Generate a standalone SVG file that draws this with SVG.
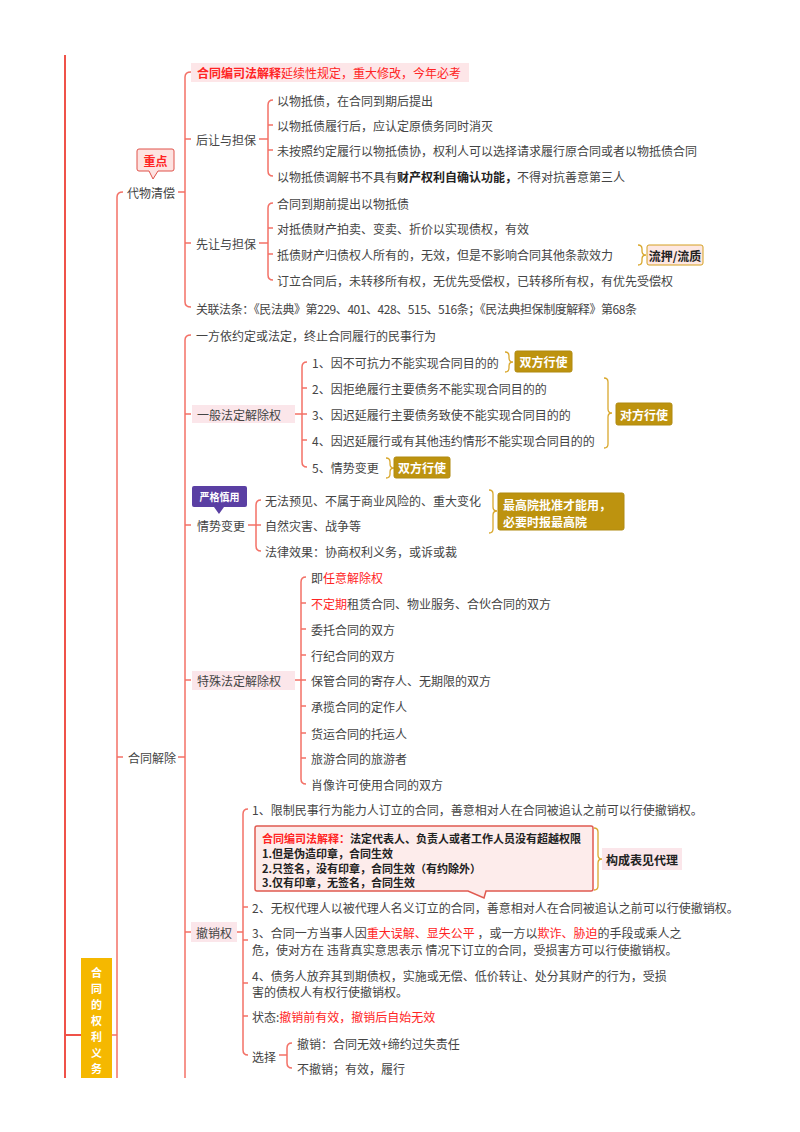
<svg xmlns="http://www.w3.org/2000/svg" width="800" height="1132" viewBox="0 0 800 1132">
<style>
.t{font-family:"Noto Sans CJK SC","Noto Sans",sans-serif;font-size:12px;fill:#444;dominant-baseline:central}
.s{font-size:11px;font-weight:bold;fill:#222}
.r{fill:#ff2424}
.b{font-weight:bold}
.dk{fill:#222}
.ln{fill:none;stroke:#f37167;stroke-width:1.5}
.l0{fill:none;stroke:#ef5249;stroke-width:2}
.br{fill:none;stroke:#d9a82e;stroke-width:1.3}
.gold{fill:#bd930f;stroke:#b08a10;stroke-width:1}
.tw{fill:#fff;font-weight:bold}
.pk{fill:#fbe6ea}
.v{font-family:"Noto Sans CJK SC","Noto Sans",sans-serif;font-size:11px;font-weight:bold;fill:#fff;dominant-baseline:central;text-anchor:middle}
</style>
<rect width="800" height="1132" fill="#fff"/>
<g id="connectors">
<path class="l0" d="M65,55 V1078 M65,1035 H81"/>
<path class="ln" d="M112,1035 H117 M123,192 Q117,192 117,197 V1078 M117,757 H123"/>
<path class="ln" d="M178,192 H185 M191,72 Q185,72 185,77 V302 Q185,307 191,307 M185,139 H191 M185,243 H191"/>
<path class="ln" d="M178,757 H185 M191,335 Q185,335 185,340 V1078 M185,414 H191 M185,525 H191 M185,680 H191 M185,932 H191"/>
<path class="ln" d="M259,139 H268 M273,100 Q268,100 268,105 V171 Q268,176 273,176 M268,125 H273 M268,150 H273"/>
<path class="ln" d="M259,243 H268 M273,203 Q268,203 268,208 V275 Q268,280 273,280 M268,228 H273 M268,254 H273"/>
<path class="ln" d="M295,414 H302 M307,362 Q302,362 302,367 V462 Q302,467 307,467 M302,388 H307 M302,414 H307 M302,440 H307"/>
<path class="ln" d="M248,525 H256 M261,500 Q256,500 256,505 V546 Q256,551 261,551 M256,525 H261"/>
<path class="ln" d="M295,680 H301 M306,577 Q301,577 301,582 V779 Q301,784 306,784 M301,603 H306 M301,629 H306 M301,655 H306 M301,680 H306 M301,706 H306 M301,733 H306 M301,758 H306"/>
<path class="ln" d="M237,932 H243 M248,809 Q243,809 243,814 V1050 Q243,1055 248,1055 M243,907 H248 M243,940 H248 M243,983 H248 M243,1016 H248"/>
<path class="ln" d="M279,1055 H287 M292,1043 Q287,1043 287,1048 V1063 Q287,1068 292,1068"/>
<path class="br" d="M638,245 Q642,245 642,249 V251 Q642,255 646,255 Q642,255 642,259 V261 Q642,265 638,265"/>
<path class="br" d="M505,352 Q509,352 509,356 V358 Q509,362 513,362 Q509,362 509,366 V368 Q509,372 505,372"/>
<path class="br" d="M604,378 Q608,378 608,382 V409 Q608,413 612,413 Q608,413 608,417 V444 Q608,448 604,448"/>
<path class="br" d="M386,458 Q390,458 390,462 V464 Q390,468 394,468 Q390,468 390,472 V474 Q390,478 386,478"/>
<path class="br" d="M489,490 Q493,490 493,494 V507 Q493,511 497,511 Q493,511 493,515 V529 Q493,533 489,533"/>
<path class="br" d="M594,828 Q598,828 598,832 V855 Q598,859 602,859 Q598,859 598,863 V886 Q598,890 594,890"/>
</g>
<g id="root">
<rect x="81" y="958" width="31" height="120" fill="#f5b800"/>
<text class="v" x="96.5" y="972">合</text>
<text class="v" x="96.5" y="988">同</text>
<text class="v" x="96.5" y="1004">的</text>
<text class="v" x="96.5" y="1020">权</text>
<text class="v" x="96.5" y="1036">利</text>
<text class="v" x="96.5" y="1052">义</text>
<text class="v" x="96.5" y="1068">务</text>
</g>
<g id="n-dwqc">
<text class="t" x="127" y="192">代物清偿</text>
<path d="M139,149 H172 Q174,149 174,151 V169 Q174,171 172,171 H158 L153,179 L149,171 H139 Q137,171 137,169 V151 Q137,149 139,149 Z" fill="#fde3e1" stroke="#e0524a" stroke-width="1"/>
<text class="t r b" x="155.5" y="160" text-anchor="middle">重点</text>
</g>
<g id="n-sfjs">
<rect x="191" y="63" width="278" height="19" fill="#fde6e8"/>
<text class="t r" x="197" y="72"><tspan class="b">合同编司法解释</tspan>延续性规定，重大修改，今年必考</text>
</g>
<g id="n-hr">
<text class="t" x="196" y="139">后让与担保</text>
<text class="t" x="277" y="100">以物抵债，在合同到期后提出</text>
<text class="t" x="277" y="125">以物抵债履行后，应认定原债务同时消灭</text>
<text class="t" x="277" y="150">未按照约定履行以物抵债协，权利人可以选择请求履行原合同或者以物抵债合同</text>
<text class="t" x="277" y="176">以物抵债调解书不具有<tspan class="b dk">财产权利自确认功能，</tspan>不得对抗善意第三人</text>
</g>
<g id="n-xr">
<text class="t" x="196" y="243">先让与担保</text>
<text class="t" x="277" y="203">合同到期前提出以物抵债</text>
<text class="t" x="277" y="228">对抵债财产拍卖、变卖、折价以实现债权，有效</text>
<text class="t" x="277" y="254">抵债财产归债权人所有的，无效，但是不影响合同其他条款效力</text>
<text class="t" x="277" y="280">订立合同后，未转移所有权，无优先受偿权，已转移所有权，有优先受偿权</text>
</g>
<g id="n-lyz">
<rect x="647" y="245" width="56" height="20" rx="2" fill="#fde7e2" stroke="#d4a020" stroke-width="1"/>
<text class="t b dk" x="675" y="255" text-anchor="middle">流押/流质</text>
</g>
<g id="n-glft">
<text class="t" x="196" y="308" textLength="441" lengthAdjust="spacing">关联法条：《民法典》第229、401、428、515、516条；《民法典担保制度解释》第68条</text>
</g>
<g id="n-htjc">
<text class="t" x="128" y="757">合同解除</text>
<text class="t" x="196" y="335">一方依约定或法定，终止合同履行的民事行为</text>
</g>
<g id="n-ybfd">
<rect x="192" y="405" width="103" height="18" class="pk"/>
<text class="t" x="197" y="414">一般法定解除权</text>
<text class="t" x="312" y="362">1、因不可抗力不能实现合同目的的</text>
<text class="t" x="312" y="388">2、因拒绝履行主要债务不能实现合同目的的</text>
<text class="t" x="312" y="414">3、因迟延履行主要债务致使不能实现合同目的的</text>
<text class="t" x="312" y="440">4、因迟延履行或有其他违约情形不能实现合同目的的</text>
<text class="t" x="312" y="467">5、情势变更</text>
</g>
<g id="n-tag1">
<rect x="515" y="351" width="57" height="21" rx="2" class="gold"/>
<text class="t tw" x="543.5" y="361.5" text-anchor="middle">双方行使</text>
</g>
<g id="n-tag2">
<rect x="616" y="403" width="56" height="22" rx="2" class="gold"/>
<text class="t tw" x="644" y="414" text-anchor="middle">对方行使</text>
</g>
<g id="n-tag3">
<rect x="394" y="457" width="56" height="21" rx="2" class="gold"/>
<text class="t tw" x="422" y="467.5" text-anchor="middle">双方行使</text>
</g>
<g id="n-qsbg">
<text class="t" x="197" y="525">情势变更</text>
<path d="M194,486 H245 Q247,486 247,488 V505 Q247,507 245,507 H224 L219,514 L214,507 H194 Q192,507 192,505 V488 Q192,486 194,486 Z" fill="#5a3fa3"/>
<text class="t tw" x="219.5" y="496.5" text-anchor="middle" style="font-size:10px">严格慎用</text>
<text class="t" x="265" y="500">无法预见、不属于商业风险的、重大变化</text>
<text class="t" x="265" y="525">自然灾害、战争等</text>
<text class="t" x="265" y="551">法律效果：协商权利义务，或诉或裁</text>
</g>
<g id="n-zgy">
<rect x="498" y="493" width="126" height="37" rx="2" class="gold"/>
<text class="t tw"><tspan x="503" y="503.5">最高院批准才能用，</tspan><tspan x="503" y="521">必要时报最高院</tspan></text>
</g>
<g id="n-tsfd">
<rect x="192" y="671" width="103" height="19" class="pk"/>
<text class="t" x="197" y="680">特殊法定解除权</text>
<text class="t" x="311" y="577">即<tspan class="r">任意解除权</tspan></text>
<text class="t" x="311" y="603"><tspan class="r">不定期</tspan>租赁合同、物业服务、合伙合同的双方</text>
<text class="t" x="311" y="629">委托合同的双方</text>
<text class="t" x="311" y="655">行纪合同的双方</text>
<text class="t" x="311" y="680">保管合同的寄存人、无期限的双方</text>
<text class="t" x="311" y="706">承揽合同的定作人</text>
<text class="t" x="311" y="733">货运合同的托运人</text>
<text class="t" x="311" y="758">旅游合同的旅游者</text>
<text class="t" x="311" y="784">肖像许可使用合同的双方</text>
</g>
<g id="n-cxq">
<rect x="191" y="922" width="46" height="20" class="pk"/>
<text class="t" x="196" y="932">撤销权</text>
<text class="t" x="252" y="809">1、限制民事行为能力人订立的合同，善意相对人在合同被追认之前可以行使撤销权。</text>
<text class="t" x="252" y="907">2、无权代理人以被代理人名义订立的合同，善意相对人在合同被追认之前可以行使撤销权。</text>
<text class="t"><tspan x="252" y="932">3、合同一方当事人因<tspan class="r">重大误解、显失公平</tspan> ，或一方以<tspan class="r">欺诈、胁迫</tspan>的手段或乘人之</tspan><tspan x="252" y="949">危，使对方在 违背真实意思表示 情况下订立的合同，受损害方可以行使撤销权。</tspan></text>
<text class="t"><tspan x="252" y="975">4、债务人放弃其到期债权，实施或无偿、低价转让、处分其财产的行为，受损</tspan><tspan x="252" y="991">害的债权人有权行使撤销权。</tspan></text>
<text class="t" x="252" y="1016">状态:<tspan class="r">撤销前有效，撤销后自始无效</tspan></text>
<text class="t" x="252" y="1056">选择</text>
<text class="t" x="297" y="1043">撤销：合同无效+缔约过失责任</text>
<text class="t" x="297" y="1068">不撤销；有效，履行</text>
</g>
<g id="n-callout">
<path d="M257,826 H591 Q593,826 593,828 V889 Q593,891 591,891 H486 L484,898 L468,891 H257 Q255,891 255,889 V828 Q255,826 257,826 Z" fill="#fdeceb" stroke="#e05a50" stroke-width="1.5"/>
<text class="t s"><tspan x="262" y="838"><tspan class="r">合同编司法解释：</tspan>法定代表人、负责人或者工作人员没有超越权限</tspan><tspan x="262" y="853">1.但是伪造印章，合同生效</tspan><tspan x="262" y="867.5">2.只签名，没有印章，合同生效（有约除外）</tspan><tspan x="262" y="882">3.仅有印章，无签名，合同生效</tspan></text>
</g>
<g id="n-bjdl">
<rect x="602" y="848" width="80" height="22" class="pk"/>
<text class="t b dk" x="642" y="859" text-anchor="middle">构成表见代理</text>
</g>
</svg>
